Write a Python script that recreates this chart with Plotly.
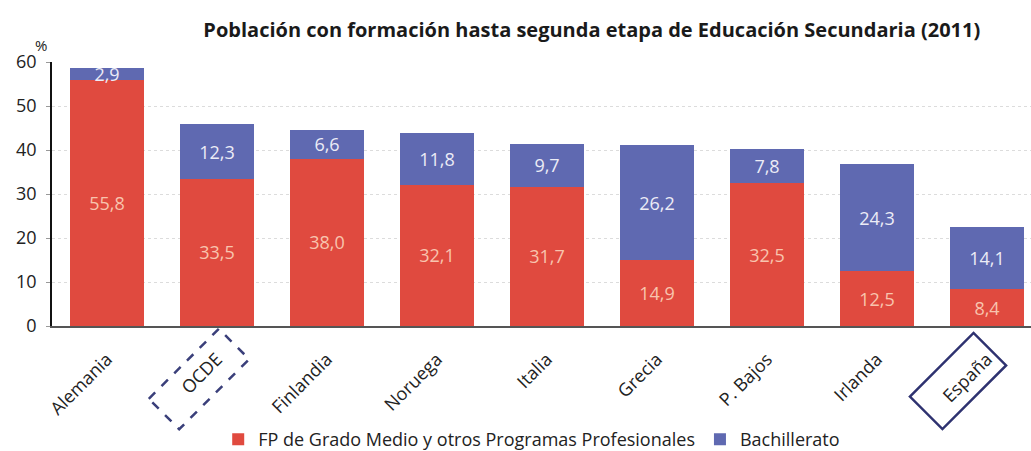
import math
import plotly.graph_objects as go

countries = ["Alemania", "OCDE", "Finlandia", "Noruega", "Italia", "Grecia", "P. Bajos", "Irlanda", "España"]
fp_values = [55.8, 33.5, 38.0, 32.1, 31.7, 14.9, 32.5, 12.5, 8.4]
bach_values = [2.9, 12.3, 6.6, 11.8, 9.7, 26.2, 7.8, 24.3, 14.1]
y_ticks = [0, 10, 20, 30, 40, 50, 60]

W, H = 1031, 451
ML, MR, MT, MB = 52, 0, 62, 125
XR = [-0.5, 8.4]
YR = [0, 60]

def fmt(v):
    return f"{v:.1f}".replace(".", ",")

RED = "#E04A3F"
BLUE = "#5F69B1"
FONT = "Open Sans"

fig = go.Figure()
fig.add_trace(go.Bar(
    x=countries, y=fp_values, name="FP de Grado Medio y otros Programas Profesionales",
    marker=dict(color=RED, line=dict(width=0)),
    text=[fmt(v) for v in fp_values], textposition="inside", insidetextanchor="middle",
    textfont=dict(color="#F8C4AE", size=18, family=FONT), constraintext="none",
    width=0.68,
))
fig.add_trace(go.Bar(
    x=countries, y=bach_values, name="Bachillerato",
    marker=dict(color=BLUE, line=dict(width=0)),
    text=[fmt(v) for v in bach_values], textposition="inside", insidetextanchor="middle",
    textfont=dict(color="#ECECF6", size=18, family=FONT), constraintext="none",
    width=0.68,
))

pw = W - ML - MR
ph = H - MT - MB

def px_to_paper(px, py):
    return (px - ML) / pw, (H - MB - py) / ph

def cat_px(i):
    return ML + (i - XR[0]) / (XR[1] - XR[0]) * pw

def rot_box(cx, cy, length, width):
    ux, uy = math.cos(math.radians(45)), -math.sin(math.radians(45))
    vx, vy = -uy, ux
    hl, hw = length / 2, width / 2
    pts = []
    for a, b in [(-1, -1), (1, -1), (1, 1), (-1, 1)]:
        px = cx + a * hl * ux + b * hw * vx
        py = cy + a * hl * uy + b * hw * vy
        pts.append(px_to_paper(px, py))
    return "M " + " L ".join(f"{x:.5f},{y:.5f}" for x, y in pts) + " Z"

i_ocde = countries.index("OCDE")
i_esp = countries.index("España")
fig.add_shape(type="path", xref="paper", yref="paper",
              path=rot_box(cat_px(i_ocde) - 18, 379, 99, 43),
              line=dict(color="#3A3F7A", width=2.5, dash="dash"))
fig.add_shape(type="path", xref="paper", yref="paper",
              path=rot_box(cat_px(i_esp) - 29, 381, 90, 46),
              line=dict(color="#2E3270", width=2.5))

pxp, pyp = px_to_paper(41, 45)
fig.add_annotation(text="%", xref="paper", yref="paper", x=pxp, y=pyp,
                   xanchor="center", yanchor="middle",
                   showarrow=False, font=dict(size=15, family=FONT, color="#222"))

fig.update_layout(
    width=W, height=H,
    margin=dict(l=ML, r=MR, t=MT, b=MB, autoexpand=False),
    barmode="stack",
    plot_bgcolor="white", paper_bgcolor="white",
    font=dict(family=FONT, color="#222"),
    title=dict(text="<b>Población con formación hasta segunda etapa de Educación Secundaria (2011)</b>",
               x=0.574, xanchor="center", y=0.933, yanchor="middle",
               font=dict(size=20, family=FONT, color="#1a1a1a")),
    showlegend=True,
    legend=dict(orientation="h", x=0.49, xanchor="center", y=-0.43, yanchor="middle",
                font=dict(size=18, family=FONT, color="#222"), traceorder="normal",
                itemwidth=30, itemsizing="constant"),
    xaxis=dict(range=XR, tickangle=-45, tickfont=dict(size=18, family=FONT, color="#222"),
               showline=True, linecolor="#555", linewidth=1.5, ticks="", showgrid=False,
               automargin=False, ticklabelstandoff=14),
    yaxis=dict(range=YR, tickvals=y_ticks, tickfont=dict(size=18, family=FONT, color="#222"),
               showline=True, linecolor="#111", linewidth=1.5, ticks="outside", ticklen=4,
               tickcolor="#999", showgrid=True, gridcolor="#dcdcdc", griddash="dot",
               zeroline=False, automargin=False, ticklabelstandoff=6),
    bargap=0.32,
)

fig.write_html("out.html", post_script="document.body.style.margin='0px';",
               config={"displayModeBar": False})
